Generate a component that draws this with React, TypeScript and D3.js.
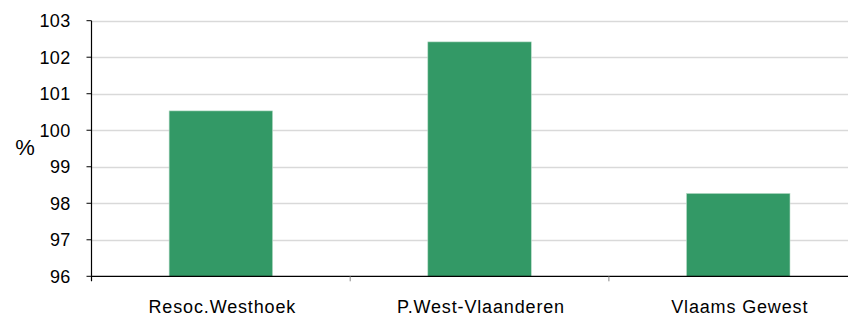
import React, { useEffect, useRef } from "react";
import * as d3 from "d3";

const categories = ["Resoc.Westhoek", "P.West-Vlaanderen", "Vlaams Gewest"];
const values = [100.53, 102.42, 98.27];
const yTicks = [96, 97, 98, 99, 100, 101, 102, 103];

const App = () => {
  const ref = useRef(null);

  useEffect(() => {
    var width = 848;
    var left = 91.5,
      top = 20.7,
      bottom = 276.3;

    var svg = d3.select(ref.current);
    svg.selectAll("*").remove();

    var yScale = d3.scaleLinear().domain([96, 103]).range([bottom, top]);
    var xScale = d3
      .scaleBand()
      .domain(categories)
      .range([left, 867.6])
      .paddingInner(0.6)
      .paddingOuter(0.3);
    var step = xScale.step();

    // gridlines
    svg
      .append("g")
      .selectAll("line")
      .data(yTicks.slice(1))
      .enter()
      .append("line")
      .attr("x1", left)
      .attr("x2", width)
      .attr("y1", (d) => Math.round(yScale(d)) + 0.5)
      .attr("y2", (d) => Math.round(yScale(d)) + 0.5)
      .attr("stroke", "#d9d9d9")
      .attr("stroke-width", 1.5);

    // bars
    svg
      .append("g")
      .selectAll("rect")
      .data(values)
      .enter()
      .append("rect")
      .attr("x", (d, i) => xScale(categories[i]))
      .attr("width", xScale.bandwidth())
      .attr("y", (d) => yScale(d))
      .attr("height", (d) => bottom - yScale(d))
      .attr("fill", "#339966")
      .attr("stroke", "#b9dcc8")
      .attr("stroke-width", 0.6);

    // y axis
    svg
      .append("line")
      .attr("x1", left)
      .attr("x2", left)
      .attr("y1", top)
      .attr("y2", bottom + 5)
      .attr("stroke", "#000")
      .attr("stroke-width", 1.2);

    var yt = svg.append("g").selectAll("g").data(yTicks).enter().append("g");
    yt.append("line")
      .attr("x1", left - 5)
      .attr("x2", left)
      .attr("y1", (d) => yScale(d))
      .attr("y2", (d) => yScale(d))
      .attr("stroke", "#000");
    yt.append("text")
      .attr("x", 70.5)
      .attr("y", (d) => yScale(d))
      .attr("dy", "0.36em")
      .attr("text-anchor", "end")
      .attr("font-family", "Liberation Sans, Arial, sans-serif")
      .attr("font-size", 18)
      .attr("letter-spacing", 0.3)
      .attr("fill", "#000")
      .text((d) => d);

    // x axis
    svg
      .append("line")
      .attr("x1", left)
      .attr("x2", width)
      .attr("y1", bottom)
      .attr("y2", bottom)
      .attr("stroke", "#000")
      .attr("stroke-width", 1.2);

    svg
      .append("g")
      .selectAll("line")
      .data(d3.range(1, categories.length))
      .enter()
      .append("line")
      .attr("x1", (i) => left + i * step)
      .attr("x2", (i) => left + i * step)
      .attr("y1", bottom)
      .attr("y2", bottom + 5)
      .attr("stroke", "#888");

    svg
      .append("g")
      .selectAll("text")
      .data(categories)
      .enter()
      .append("text")
      .attr("x", (d) => xScale(d) + xScale.bandwidth() / 2 + 1.5)
      .attr("y", 313.3)
      .attr("text-anchor", "middle")
      .attr("font-family", "Liberation Sans, Arial, sans-serif")
      .attr("font-size", 18)
      .attr("letter-spacing", 0.85)
      .attr("fill", "#000")
      .text((d) => d);

    // unit label
    svg
      .append("text")
      .attr("x", 25)
      .attr("y", 155)
      .attr("text-anchor", "middle")
      .attr("font-family", "Liberation Sans, Arial, sans-serif")
      .attr("font-size", 22)
      .attr("fill", "#000")
      .text("%");
  }, []);

  return (
    <svg
      ref={ref}
      width={848}
      height={317}
      style={{ position: "absolute", left: 0, top: 0, background: "#fff" }}
    />
  );
};

export default App;
